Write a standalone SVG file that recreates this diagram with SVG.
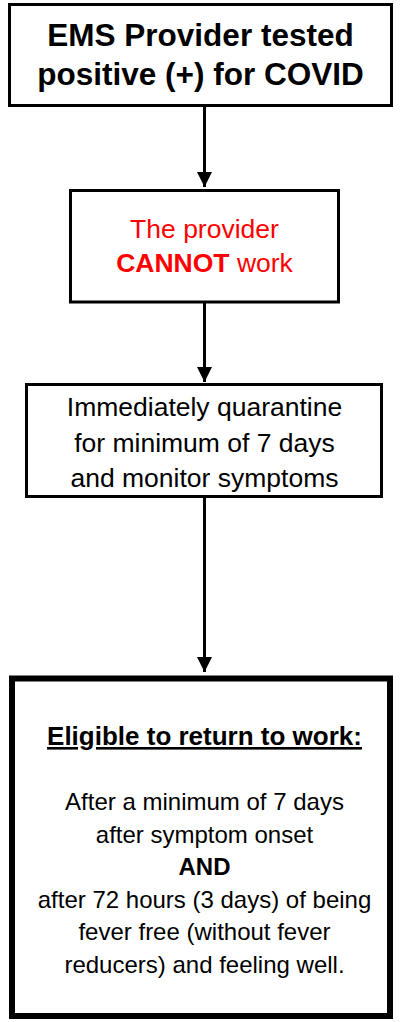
<svg xmlns="http://www.w3.org/2000/svg" width="400" height="1022" viewBox="0 0 400 1022">
<style>
.box{fill:#fff;stroke:#000;stroke-width:3}
.thick{fill:#fff;stroke:#000;stroke-width:6}
.conn{stroke:#000;stroke-width:3;fill:none}
text{font-family:"Liberation Sans",Arial,sans-serif;text-anchor:middle;fill:#000}
.title{font-size:31.5px;font-weight:bold}
.mid{font-size:26.5px}
.red{fill:#ff0000}
.b{font-weight:bold}
.small{font-size:24px}
.head{font-size:26px;font-weight:bold;text-decoration:underline}
</style>
<defs>
<marker id="arr" markerUnits="userSpaceOnUse" markerWidth="15" markerHeight="15" refX="15" refY="7.5" orient="auto" viewBox="0 0 15 15">
<path d="M0,0 L15,7.5 L0,15 z" fill="#000"/>
</marker>
</defs>
<rect width="400" height="1022" fill="#fff"/>
<g id="connectors">
<line class="conn" x1="204.5" y1="106" x2="204.5" y2="187" marker-end="url(#arr)"/>
<line class="conn" x1="204.5" y1="303" x2="204.5" y2="382" marker-end="url(#arr)"/>
<line class="conn" x1="204.5" y1="497" x2="204.5" y2="672" marker-end="url(#arr)"/>
</g>
<g id="n1">
<rect class="box" x="9.5" y="4.5" width="382" height="101"/>
<text class="title" x="200.5" y="46">EMS Provider tested</text>
<text class="title" x="200.5" y="85">positive (+) for COVID</text>
</g>
<g id="n2">
<rect class="box" x="70.5" y="190.5" width="268" height="111.5"/>
<text class="mid red" x="204.5" y="238">The provider</text>
<text class="mid red" x="204.5" y="272"><tspan class="b">CANNOT</tspan> work</text>
</g>
<g id="n3">
<rect class="box" x="26.5" y="384.5" width="355" height="112"/>
<text class="mid" x="204.5" y="416">Immediately quarantine</text>
<text class="mid" x="204.5" y="451.5">for minimum of 7 days</text>
<text class="mid" x="204.5" y="487">and monitor symptoms</text>
</g>
<g id="n4">
<rect class="thick" x="12" y="678.5" width="378" height="337.5"/>
<text class="head" x="204.5" y="745">Eligible to return to work:</text>
<text class="small" x="204.5" y="810">After a minimum of 7 days</text>
<text class="small" x="204.5" y="842.5">after symptom onset</text>
<text class="small b" x="204.5" y="875">AND</text>
<text class="small" x="204.5" y="907.5">after 72 hours (3 days) of being</text>
<text class="small" x="204.5" y="940">fever free (without fever</text>
<text class="small" x="204.5" y="972.5">reducers) and feeling well.</text>
</g>
</svg>
